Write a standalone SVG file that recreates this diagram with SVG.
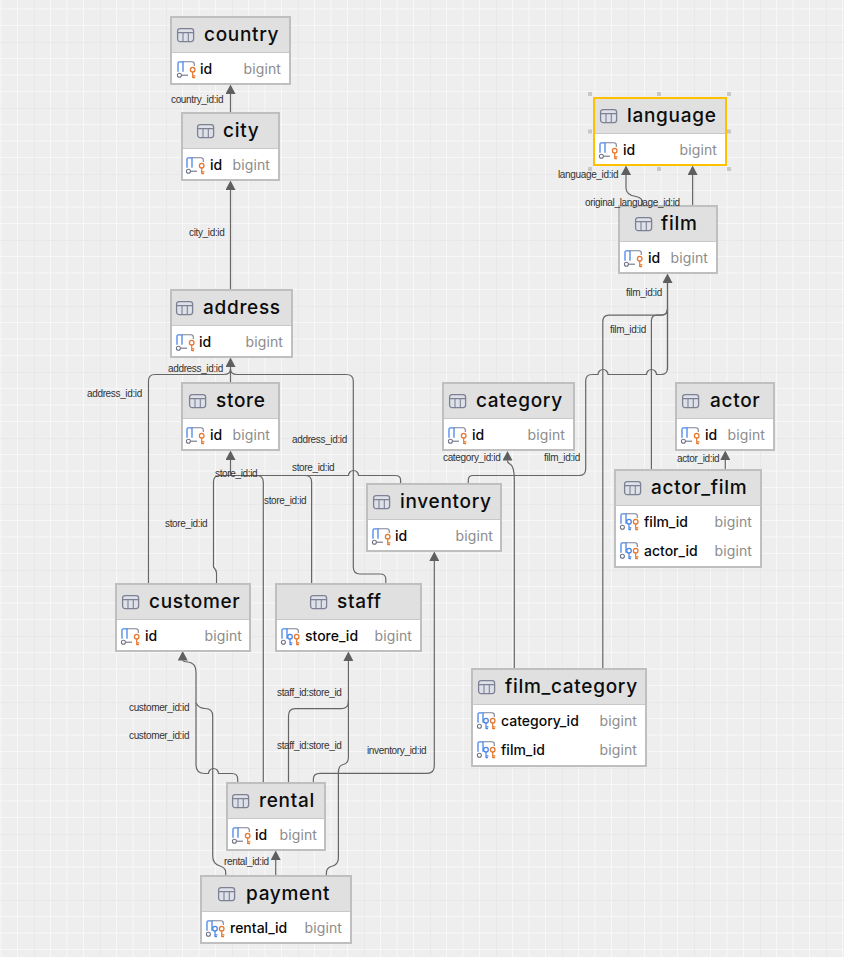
<svg xmlns="http://www.w3.org/2000/svg" xmlns:xlink="http://www.w3.org/1999/xlink" width="844" height="957" viewBox="0 0 844 957">
<style>
.box{fill:#fff;stroke:#bfbfbf;stroke-width:2}
.sel{stroke:#ffc000}
.hdr{fill:#e0e0e0}
.div{stroke:#c8c8c8;stroke-width:1}
.title{font:500 19px Inter,"Liberation Sans",sans-serif;letter-spacing:.7px;fill:#0c0c0c}
.name{font:500 14px Inter,"Liberation Sans",sans-serif;fill:#0a0a0a}
.type{font:400 14px Inter,"Liberation Sans",sans-serif;fill:#8c8c8c;text-anchor:end;letter-spacing:.1px}
.lbl{font:10px "Liberation Sans",Arial,sans-serif;letter-spacing:-.35px;fill:#333}
.c{fill:none;stroke:#666;stroke-width:1.2}
.hd{fill:#5f5f5f}
.h{fill:#c8c8c8}
</style>
<defs>
<pattern id="grid" width="66" height="66" patternUnits="userSpaceOnUse" patternTransform="translate(34 42)">
<path d="M16.500 0V66M33 0V66M49.500 0V66M0 16.500H66M0 33H66M0 49.500H66" stroke="#f8f8f8" stroke-width="1" fill="none"/>
<path d="M0 0V66M0 0H66" stroke="#e6e6e6" stroke-width="1.400" fill="none"/>
</pattern>
<marker id="arr" markerUnits="userSpaceOnUse" markerWidth="10" markerHeight="10" refX="0" refY="5" orient="auto"><path class="hd" d="M0 0L9.500 5L0 10Z"/></marker>
<g id="tbl"><rect x=".6" y=".6" width="16" height="13" rx="2.500" fill="#dfe1e8" stroke="#7d8194" stroke-width="1.300"/><path d="M.6 4.600H16.600M6 4.600V13.600M11.300 4.600V13.600" stroke="#7d8194" stroke-width="1.100" fill="none"/></g>
<g id="pk"><path d="M1 10.800V2.200Q1 .8 2.400 .8H6V10.800" fill="none" stroke="#4a86e8" stroke-width="1.300"/><path d="M6 .8H15Q17.300 .8 17.300 3V5" fill="none" stroke="#7d8194" stroke-width="1.100"/><circle cx="2.400" cy="14.200" r="2" fill="none" stroke="#6e7285" stroke-width="1.100"/><path d="M4.600 14.200H11" stroke="#6e7285" stroke-width="1.100"/><circle cx="15.700" cy="8.700" r="2.300" fill="none" stroke="#e8772e" stroke-width="1.300"/><path d="M15.700 11V17M15.700 14.800H18.400M15.700 16.600H18" stroke="#e8772e" stroke-width="1.200" fill="none"/></g>
<g id="fk"><path d="M1 10.800V2.200Q1 .8 2.400 .8H6V10.800" fill="none" stroke="#4a86e8" stroke-width="1.300"/><path d="M6 .8H15Q17.300 .8 17.300 3V5" fill="none" stroke="#7d8194" stroke-width="1.100"/><circle cx="2.400" cy="14.200" r="2" fill="none" stroke="#6e7285" stroke-width="1.100"/><circle cx="9" cy="8.700" r="2.300" fill="none" stroke="#4a86e8" stroke-width="1.300"/><path d="M9 11V17M9 14.800H11.400M9 16.600H11" stroke="#4a86e8" stroke-width="1.200" fill="none"/><circle cx="15.700" cy="8.700" r="2.300" fill="none" stroke="#e8772e" stroke-width="1.300"/><path d="M15.700 11V17M15.700 14.800H18.400M15.700 16.600H18" stroke="#e8772e" stroke-width="1.200" fill="none"/></g>
</defs>
<rect width="844" height="957" fill="#eeeeee"/>
<rect width="844" height="957" fill="url(#grid)"/>

<g id="connectors">
<path class="c" marker-end="url(#arr)" d="M230.500 113V94"/>
<path class="c" marker-end="url(#arr)" d="M230.500 290V190"/>
<path class="c" marker-end="url(#arr)" d="M230.500 383V367"/>
<path class="c" d="M148.500 584V381Q148.500 374.500 155 374.500H224Q230.500 374.500 230.500 369"/>
<path class="c" d="M385.800 584V579Q385.800 574 380 574H360Q353.300 574 353.300 567V381Q353.300 374.500 346 374.500H237Q230.500 374.500 230.500 369"/>
<path class="c" marker-end="url(#arr)" d="M230.500 475.500V460"/>
<path class="c" d="M216.500 584V573Q216.500 570 213.500 567V482Q213.500 475.500 220 475.500H230.500"/>
<path class="c" d="M263.300 783V482Q263.300 475.500 256 475.500H230.500"/>
<path class="c" d="M311.600 584V482Q311.600 475.500 305 475.500H230.500"/>
<path class="c" d="M400.600 484V480Q400.600 475.500 395 475.500H358.500A5 5 0 0 0 348.500 475.500H230.500"/>
<path class="c" marker-end="url(#arr)" d="M514.300 669V480Q514.300 466 510 464Q507.500 463 507.500 460.500"/>
<path class="c" d="M468.300 484V480Q468.300 475.500 473 475.500H579Q585.700 475.500 585.700 469V381Q585.700 374.500 592 374.500H598A5 5 0 0 1 608 374.500H646.500A5 5 0 0 1 656.500 374.500H661Q667.500 374.500 667.500 368V283"/>
<path class="c" d="M602.800 669V322Q602.800 315.200 609 315.200H661Q667.500 315.200 667.500 309"/>
<path class="c" d="M651.400 470V321Q651.400 315.200 657 315.200H661Q667.500 315.200 667.500 309"/>
<path class="c" marker-end="url(#arr)" d="M667.500 370V283"/>
<path class="c" marker-end="url(#arr)" d="M725.300 470V460"/>
<path class="c" marker-end="url(#arr)" d="M643 206V204Q643 198 636 196.500Q626 195 626 188V175"/>
<path class="c" marker-end="url(#arr)" d="M692.600 206V175"/>
<path class="c" marker-end="url(#arr)" d="M237.700 783V779Q237.700 773.500 232 773.500H218.500A5 5 0 0 0 208.500 773.500H205Q196 773.500 196 765V672Q196 663 188 662Q182.700 661.500 182.700 660.500"/>
<path class="c" d="M225.700 876V872Q225.700 868 220 866Q212.700 864 212.700 856V716Q212.700 708.500 205 708.500Q199 708.500 196 703"/>
<path class="c" marker-end="url(#arr)" d="M288.500 783V716Q288.500 708.700 295 708.700H341Q348.400 708.700 348.400 702V661"/>
<path class="c" d="M326.400 876V873Q326.400 868 331 866.500Q338.400 865 338.400 858V773Q338.400 766 342 765Q348.400 764 348.400 757V700"/>
<path class="c" marker-end="url(#arr)" d="M313.400 783V779Q313.400 773.300 320 773.300H427Q434.300 773.300 434.300 766V561"/>
<path class="c" marker-end="url(#arr)" d="M275.700 876V860"/>
</g>

<g id="country"><rect class="box" x="171" y="17" width="119" height="67"/><rect class="hdr" x="172" y="18" width="117" height="34"/><path class="div" d="M172 52.500H289"/><use href="#tbl" x="177" y="28"/><text class="title" x="204" y="41">country</text><use href="#pk" x="177" y="61"/><text class="name" x="200" y="74">id</text><text class="type" x="281" y="74">bigint</text></g>
<g id="city"><rect class="box" x="182" y="113" width="97" height="67"/><rect class="hdr" x="183" y="114" width="95" height="34"/><path class="div" d="M183 148.500H278"/><use href="#tbl" x="197" y="124"/><text class="title" x="223" y="137">city</text><use href="#pk" x="186" y="157"/><text class="name" x="210" y="170">id</text><text class="type" x="270" y="170">bigint</text></g>
<g id="address"><rect class="box" x="171" y="290" width="121" height="67"/><rect class="hdr" x="172" y="291" width="119" height="34"/><path class="div" d="M172 325.500H291"/><use href="#tbl" x="176" y="301"/><text class="title" x="203" y="314">address</text><use href="#pk" x="176" y="334"/><text class="name" x="199" y="347">id</text><text class="type" x="283" y="347">bigint</text></g>
<g id="store"><rect class="box" x="182" y="383" width="97" height="67"/><rect class="hdr" x="183" y="384" width="95" height="34"/><path class="div" d="M183 418.500H278"/><use href="#tbl" x="189" y="394"/><text class="title" x="216" y="407">store</text><use href="#pk" x="186" y="427"/><text class="name" x="210" y="440">id</text><text class="type" x="270" y="440">bigint</text></g>
<g id="language"><rect class="h" x="588" y="92" width="4" height="4"/><rect class="h" x="657" y="92" width="4" height="4"/><rect class="h" x="727" y="92" width="4" height="4"/><rect class="h" x="588" y="129.500" width="4" height="4"/><rect class="h" x="727" y="129.500" width="4" height="4"/><rect class="h" x="588" y="167" width="4" height="4"/><rect class="h" x="657" y="167" width="4" height="4"/><rect class="h" x="727" y="167" width="4" height="4"/><rect class="box sel" x="594" y="98" width="132" height="67"/><rect class="hdr" x="595" y="99" width="130" height="34"/><path class="div" d="M595 133.500H725"/><use href="#tbl" x="600" y="109"/><text class="title" x="627" y="122">language</text><use href="#pk" x="599" y="142"/><text class="name" x="623" y="155">id</text><text class="type" x="717" y="155">bigint</text></g>
<g id="film"><rect class="box" x="619" y="206" width="98" height="67"/><rect class="hdr" x="620" y="207" width="96" height="34"/><path class="div" d="M620 241.500H716"/><use href="#tbl" x="635" y="217"/><text class="title" x="661" y="230">film</text><use href="#pk" x="624" y="250"/><text class="name" x="648" y="263">id</text><text class="type" x="708" y="263">bigint</text></g>
<g id="category"><rect class="box" x="443" y="383" width="131" height="67"/><rect class="hdr" x="444" y="384" width="129" height="34"/><path class="div" d="M444 418.500H573"/><use href="#tbl" x="449" y="394"/><text class="title" x="476" y="407">category</text><use href="#pk" x="448" y="427"/><text class="name" x="472" y="440">id</text><text class="type" x="565" y="440">bigint</text></g>
<g id="actor"><rect class="box" x="676" y="383" width="98" height="67"/><rect class="hdr" x="677" y="384" width="96" height="34"/><path class="div" d="M677 418.500H773"/><use href="#tbl" x="682" y="394"/><text class="title" x="710" y="407">actor</text><use href="#pk" x="681" y="427"/><text class="name" x="705" y="440">id</text><text class="type" x="765" y="440">bigint</text></g>
<g id="inventory"><rect class="box" x="367" y="484" width="134" height="67"/><rect class="hdr" x="368" y="485" width="132" height="34"/><path class="div" d="M368 519.500H500"/><use href="#tbl" x="373" y="495"/><text class="title" x="400" y="508">inventory</text><use href="#pk" x="372" y="528"/><text class="name" x="395" y="541">id</text><text class="type" x="493" y="541">bigint</text></g>
<g id="actor_film"><rect class="box" x="615" y="470" width="146" height="97"/><rect class="hdr" x="616" y="471" width="144" height="34"/><path class="div" d="M616 505.500H760"/><use href="#tbl" x="624" y="481"/><text class="title" x="651" y="494">actor_film</text><use href="#fk" x="620" y="513"/><text class="name" x="644" y="527">film_id</text><text class="type" x="752" y="527">bigint</text><use href="#fk" x="620" y="542"/><text class="name" x="644" y="556">actor_id</text><text class="type" x="752" y="556">bigint</text></g>
<g id="customer"><rect class="box" x="116" y="584" width="134" height="67"/><rect class="hdr" x="117" y="585" width="132" height="34"/><path class="div" d="M117 619.500H249"/><use href="#tbl" x="122" y="595"/><text class="title" x="149" y="608">customer</text><use href="#pk" x="121" y="628"/><text class="name" x="145" y="641">id</text><text class="type" x="242" y="641">bigint</text></g>
<g id="staff"><rect class="box" x="276" y="584" width="145" height="67"/><rect class="hdr" x="277" y="585" width="143" height="34"/><path class="div" d="M277 619.500H420"/><use href="#tbl" x="310" y="595"/><text class="title" x="337" y="608">staff</text><use href="#fk" x="281" y="628"/><text class="name" x="305" y="641">store_id</text><text class="type" x="412" y="641">bigint</text></g>
<g id="film_category"><rect class="box" x="472" y="669" width="174" height="97"/><rect class="hdr" x="473" y="670" width="172" height="34"/><path class="div" d="M473 704.500H645"/><use href="#tbl" x="478" y="680"/><text class="title" x="505" y="693">film_category</text><use href="#fk" x="477" y="712"/><text class="name" x="501" y="726">category_id</text><text class="type" x="637" y="726">bigint</text><use href="#fk" x="477" y="741"/><text class="name" x="501" y="755">film_id</text><text class="type" x="637" y="755">bigint</text></g>
<g id="rental"><rect class="box" x="227" y="783" width="98" height="67"/><rect class="hdr" x="228" y="784" width="96" height="34"/><path class="div" d="M228 818.500H324"/><use href="#tbl" x="232" y="794"/><text class="title" x="259" y="807">rental</text><use href="#pk" x="232" y="827"/><text class="name" x="255" y="840">id</text><text class="type" x="317" y="840">bigint</text></g>
<g id="payment"><rect class="box" x="201" y="876" width="150" height="67"/><rect class="hdr" x="202" y="877" width="148" height="34"/><path class="div" d="M202 911.500H350"/><use href="#tbl" x="218" y="887"/><text class="title" x="246" y="900">payment</text><use href="#fk" x="206" y="920"/><text class="name" x="230" y="933">rental_id</text><text class="type" x="342" y="933">bigint</text></g>

<g id="labels">
<text class="lbl" x="171" y="102.500">country_id:id</text>
<text class="lbl" x="189" y="235.500">city_id:id</text>
<text class="lbl" x="168" y="371.500">address_id:id</text>
<text class="lbl" x="87" y="396.500">address_id:id</text>
<text class="lbl" x="292" y="442.500">address_id:id</text>
<text class="lbl" x="215" y="476.500">store_id:id</text>
<text class="lbl" x="292" y="470.500">store_id:id</text>
<text class="lbl" x="264" y="503.500">store_id:id</text>
<text class="lbl" x="165" y="526.500">store_id:id</text>
<text class="lbl" x="558" y="177.500">language_id:id</text>
<text class="lbl" x="585" y="206">original_language_id:id</text>
<text class="lbl" x="626" y="295.500">film_id:id</text>
<text class="lbl" x="610" y="332.500">film_id:id</text>
<text class="lbl" x="544" y="460.500">film_id:id</text>
<text class="lbl" x="443" y="460.500">category_id:id</text>
<text class="lbl" x="677" y="461.500">actor_id:id</text>
<text class="lbl" x="129" y="710.500">customer_id:id</text>
<text class="lbl" x="129" y="738.500">customer_id:id</text>
<text class="lbl" x="277" y="695.500">staff_id:store_id</text>
<text class="lbl" x="277" y="748.500">staff_id:store_id</text>
<text class="lbl" x="367" y="753.500">inventory_id:id</text>
<text class="lbl" x="224" y="864.500">rental_id:id</text>
</g>
</svg>
